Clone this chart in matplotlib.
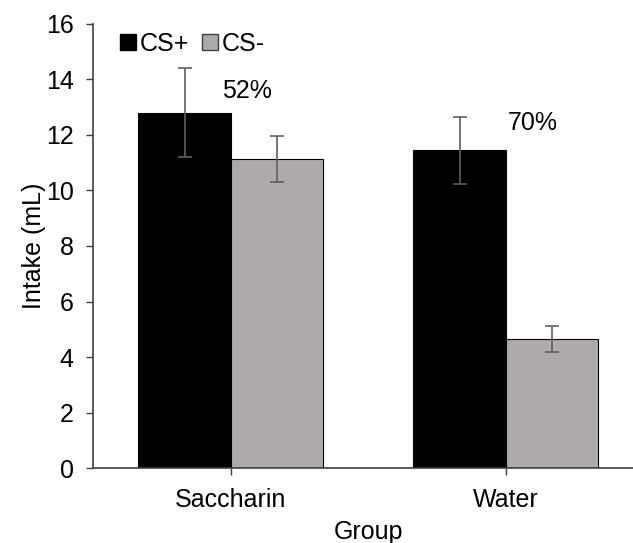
import matplotlib
matplotlib.use("Agg")
import matplotlib.pyplot as plt
from matplotlib.lines import Line2D
import numpy as np

plt.rcParams["font.family"] = ["Liberation Sans", "DejaVu Sans"]

groups = ["Saccharin", "Water"]
cs_plus = [12.8, 11.45]
cs_plus_err = [1.6, 1.2]
cs_minus = [11.13, 4.66]
cs_minus_err = [0.82, 0.47]
pct_labels = ["52%", "70%"]
pct_pos = [(0.06, 13.6), (1.1, 12.43)]

fs = 18
fig = plt.figure(figsize=(6.33, 5.43), dpi=100)
ax = fig.add_axes([0.147, 0.138, 0.869, 0.818])

x = np.arange(len(groups))
w = 0.335
err_kw = dict(ecolor="#5f5f5f", elinewidth=1.2, capsize=5, capthick=1.2)
ax.bar(x - w / 2, cs_plus, w, yerr=cs_plus_err, color="black",
       edgecolor="black", linewidth=0.8, error_kw=err_kw)
ax.bar(x + w / 2, cs_minus, w, yerr=cs_minus_err, color="#aeaaaa",
       edgecolor="black", linewidth=0.8, error_kw=err_kw)

for txt, (px, py) in zip(pct_labels, pct_pos):
    ax.text(px, py, txt, fontsize=fs, ha="center", va="center")

ax.set_xlim(-0.5, 1.5)
ax.set_ylim(0, 16)
ax.set_yticks(range(0, 17, 2))
ax.set_xticks(x)
ax.set_xticklabels(groups)
ax.tick_params(labelsize=fs, length=5, width=1, color="#404040")
ax.tick_params(axis="y", pad=9)
ax.tick_params(axis="x", pad=9)
ax.set_xlabel("Group", fontsize=fs, labelpad=6)
ax.set_ylabel("Intake (mL)", fontsize=fs, labelpad=0)

for s in ["top", "right"]:
    ax.spines[s].set_visible(False)
for s in ["left", "bottom"]:
    ax.spines[s].set_color("#404040")
    ax.spines[s].set_linewidth(1.2)

handles = [
    Line2D([], [], marker="s", ls="", markersize=12, markerfacecolor="black",
           markeredgecolor="black"),
    Line2D([], [], marker="s", ls="", markersize=12, markerfacecolor="#aeaaaa",
           markeredgecolor="#404040"),
]
ax.legend(handles, ["CS+", "CS-"], loc="upper left", bbox_to_anchor=(0.03, 1.005),
          ncol=2, frameon=False, fontsize=fs, handlelength=0.7,
          handletextpad=0.1, columnspacing=0.5, borderaxespad=0)

fig.savefig("out.png", dpi=100)
